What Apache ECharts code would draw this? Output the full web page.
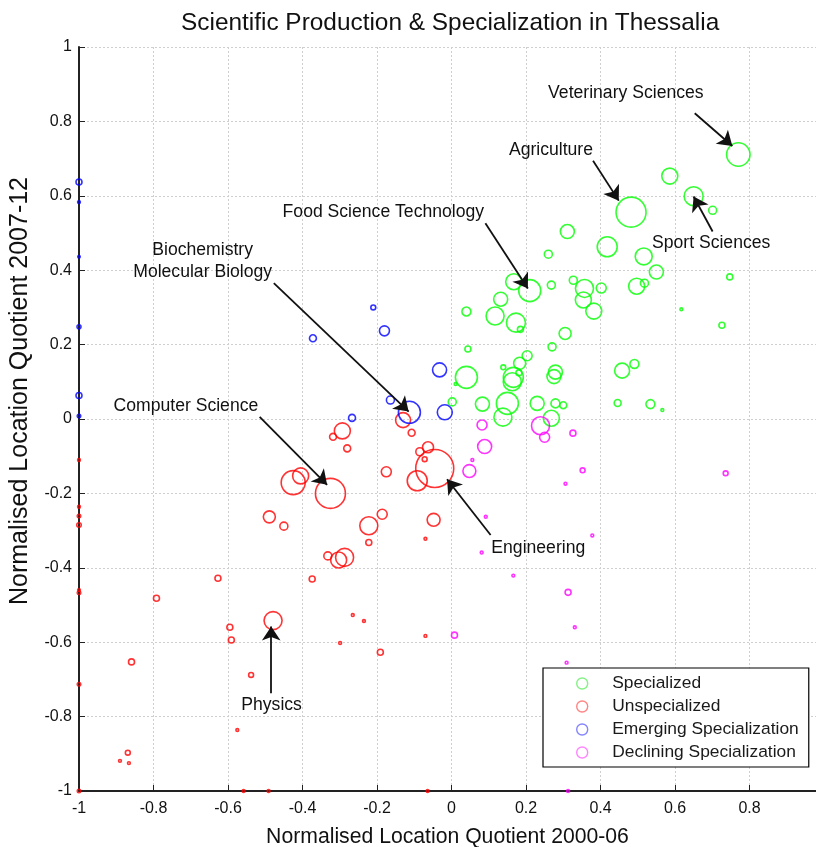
<!DOCTYPE html>
<html>
<head>
<meta charset="utf-8">
<script src="https://cdn.jsdelivr.net/npm/echarts@6/dist/echarts.min.js"></script>
<style>html,body{margin:0;padding:0;background:#fff;}#chart{width:816px;height:847px;}</style>
</head>
<body>
<div id="chart"></div>
<script>
// ---- data: [NLQ 2000-06, NLQ 2007-12, publication volume] ----
const categories = ['Specialized', 'Unspecialized', 'Emerging Specialization', 'Declining Specialization'];

const specialized = [
  [0.770,0.711,137],[0.586,0.653,64],[0.482,0.556,225],[0.650,0.599,90],[0.701,0.561,16],
  [0.311,0.504,49],[0.418,0.463,100],[0.516,0.437,72],[0.550,0.395,49],[0.260,0.443,16],
  [0.327,0.373,16],[0.357,0.351,81],[0.402,0.352,25],[0.497,0.357,64],[0.518,0.365,16],
  [0.354,0.320,64],[0.382,0.290,64],[0.747,0.382,9],[0.617,0.295,2],[0.726,0.252,9],
  [0.305,0.230,36],[0.458,0.130,56],[0.491,0.148,20],[0.300,0.037,12],[0.446,0.043,12],
  [0.534,0.040,20],[0.566,0.024,2],[0.210,0.345,121],[0.167,0.369,64],[0.268,0.360,16],
  [0.132,0.322,49],[0.040,0.289,20],[0.117,0.277,81],[0.173,0.259,90],[0.185,0.241,9],
  [0.270,0.194,16],[0.044,0.188,9],[0.203,0.170,25],[0.183,0.150,36],[0.139,0.139,6],
  [0.181,0.124,9],[0.166,0.112,100],[0.163,0.100,81],[0.279,0.126,49],[0.275,0.114,49],
  [0.040,0.112,121],[0.011,0.094,2],[0.002,0.046,16],[0.083,0.040,49],[0.150,0.042,121],
  [0.138,0.005,81],[0.230,0.042,49],[0.279,0.042,20],[0.268,0.002,64]
];

const unspecialized = [
  [-0.130,-0.003,56],[-0.107,-0.037,12],[-0.293,-0.032,64],[-0.318,-0.048,12],[-0.280,-0.079,12],
  [-0.063,-0.076,30],[-0.085,-0.088,16],[-0.072,-0.108,6],[-0.045,-0.133,361],[-0.092,-0.166,100],
  [-0.175,-0.142,25],[-0.325,-0.200,225],[-0.186,-0.256,25],[-0.222,-0.287,81],[-0.048,-0.271,42],
  [-0.070,-0.322,2],[-0.425,-0.171,144],[-0.405,-0.153,64],[-0.489,-0.263,36],[-0.450,-0.288,16],
  [-0.222,-0.332,9],[-0.332,-0.368,16],[-0.303,-0.379,64],[-0.287,-0.372,81],[-0.374,-0.430,9],
  [-0.627,-0.428,9],[-0.792,-0.482,9],[-0.479,-0.542,81],[-0.595,-0.560,9],[-0.591,-0.594,9],
  [-0.299,-0.602,2],[-0.859,-0.653,9],[-0.538,-0.688,6],[-0.575,-0.836,2],[-0.869,-0.897,6],
  [-0.890,-0.919,2],[-0.866,-0.925,2],[-0.265,-0.527,2],[-0.235,-0.543,2],[-0.070,-0.583,2],
  [-0.191,-0.627,9],[-1,-0.110,2],[-1,-0.236,2],[-1,-0.261,3],[-1,-0.285,5],
  [-1,-0.460,2],[-1,-0.467,3],[-1,-0.713,3],[-1,-1.0,3],[-0.558,-1,2],
  [-0.491,-1,2],[-0.064,-1,2]
];

const emerging = [
  [-0.210,0.300,6],[-0.180,0.237,25],[-0.032,0.132,49],[-0.164,0.051,16],[-0.113,0.018,121],
  [-0.018,0.018,56],[-0.267,0.003,12],[-0.372,0.217,12],[-1,0.637,9],[-1,0.583,2],
  [-1,0.436,1],[-1,0.248,4],[-1,0.063,9],[-1,0.008,3]
];

const declining = [
  [0.239,-0.018,81],[0.250,-0.049,25],[0.082,-0.016,25],[0.089,-0.074,49],[0.326,-0.038,9],
  [0.048,-0.140,42],[0.056,-0.110,2],[0.352,-0.138,6],[0.306,-0.174,2],[0.092,-0.263,2],
  [0.378,-0.313,2],[0.736,-0.146,6],[0.081,-0.359,2],[0.166,-0.421,2],[0.313,-0.466,9],
  [0.331,-0.560,2],[0.008,-0.581,9],[0.309,-0.655,2],[0.313,-1.0,2]
];

const annotationNames = ['Veterinary Sciences','Agriculture','Sport Sciences','Food Science Technology',
  'Biochemistry\nMolecular Biology','Computer Science','Engineering','Physics'];
const annotationTextAt = [[0.468,0.876],[0.267,0.723],[0.697,0.472],[-0.183,0.555],
  [-0.668,0.425],[-0.713,0.035],[0.233,-0.347],[-0.483,-0.769]];
const arrowTails = [[0.653,0.822],[0.380,0.694],[0.701,0.504],[0.091,0.526],
  [-0.477,0.365],[-0.515,0.006],[0.105,-0.312],[-0.484,-0.737]];
const arrowTips = [[0.754,0.734],[0.449,0.587],[0.650,0.598],[0.205,0.351],
  [-0.115,0.020],[-0.334,-0.177],[-0.012,-0.162],[-0.484,-0.558]];

const xTicks = { min: -1, max: 1, interval: 0.2 };
const yTicks = { min: -1, max: 1, interval: 0.2 };

// ---- chart ----
const colors = ['#00ff00', '#ff0000', '#0000ff', '#ff00ff'];
const legendColors = ['#66ee66', '#ff6666', '#6666ff', '#ff66ff'];
const FONT = 'Liberation Sans, Arial, Helvetica, sans-serif';
const seriesData = [specialized, unspecialized, emerging, declining];

const chart = echarts.init(document.getElementById('chart'), null, { renderer: 'canvas' });

const series = categories.map((name, i) => ({
  name: name,
  type: 'scatter',
  data: seriesData[i],
  symbol: 'circle',
  symbolSize: v => Math.max(2.5, 2 * Math.sqrt(v[2])),
  itemStyle: { color: 'rgba(0,0,0,0)', borderColor: colors[i], borderWidth: 1.6 },
  emphasis: { disabled: true },
  clip: false,
  z: 3
}));

series.push({
  name: 'annotations',
  type: 'scatter',
  silent: true,
  symbol: 'circle',
  symbolSize: 0,
  itemStyle: { color: '#111' },
  data: annotationNames.map((n, i) => ({ name: n, value: annotationTextAt[i] })),
  label: {
    show: true, position: 'inside', formatter: p => p.name,
    color: '#111', fontFamily: FONT, fontSize: 17.6, lineHeight: 22, align: 'center', verticalAlign: 'middle',
    textBorderWidth: 0, opacity: 1
  },
  markLine: {
    silent: true,
    animation: false,
    symbol: ['none', 'arrow'],
    symbolSize: 14,
    label: { show: false },
    lineStyle: { color: '#111', width: 1.8, type: 'solid' },
    emphasis: { disabled: true },
    data: arrowTails.map((t, i) => [{ coord: t }, { coord: arrowTips[i] }])
  },
  z: 4
});

const option = {
  animation: false,
  backgroundColor: '#fff',
  title: {
    text: 'Scientific Production & Specialization in Thessalia',
    left: 176, top: 6,
    textStyle: { fontFamily: FONT, fontSize: 24.4, fontWeight: 'normal', color: '#111' }
  },
  grid: { left: 79, top: 47, width: 745, height: 744, outerBoundsMode: 'none', containLabel: false },
  legend: {
    data: categories.map((c, i) => ({
      name: c, icon: 'circle',
      itemStyle: { color: 'rgba(0,0,0,0)', borderColor: legendColors[i], borderWidth: 1.4 }
    })),
    orient: 'vertical',
    left: 543, top: 668,
    padding: [7, 10, 6, 33],
    itemWidth: 12, itemHeight: 11, itemGap: 6,
    backgroundColor: '#fff',
    borderColor: '#000', borderWidth: 1.2, borderRadius: 0,
    selectedMode: false,
    textStyle: { fontFamily: FONT, fontSize: 17.4, color: '#1a1a1a', lineHeight: 17, padding: [0, 0, 0, 19] }
  },
  xAxis: {
    type: 'value', min: xTicks.min, max: xTicks.max, interval: xTicks.interval,
    name: 'Normalised Location Quotient 2000-06', nameLocation: 'middle', nameGap: 36,
    nameTextStyle: { fontFamily: FONT, fontSize: 21.2, color: '#111', padding: [0, 8, 0, 0] },
    axisLine: { show: true, onZero: false, lineStyle: { color: '#222', width: 2 } },
    axisTick: { show: true, inside: true, length: 6, lineStyle: { color: '#222', width: 1 } },
    axisLabel: { fontFamily: FONT, fontSize: 16, color: '#111', margin: 10 },
    splitLine: { show: true, lineStyle: { color: '#cfcfcf', type: [2, 2], width: 1 } }
  },
  yAxis: {
    type: 'value', min: yTicks.min, max: yTicks.max, interval: yTicks.interval,
    name: 'Normalised Location Quotient 2007-12', nameLocation: 'middle', nameGap: 46, nameRotate: 90,
    nameTextStyle: { fontFamily: FONT, fontSize: 25, color: '#111', padding: [0, 0, 0, 56] },
    axisLine: { show: true, onZero: false, lineStyle: { color: '#222', width: 2 } },
    axisTick: { show: true, inside: true, length: 6, lineStyle: { color: '#222', width: 1 } },
    axisLabel: { fontFamily: FONT, fontSize: 16, color: '#111', margin: 7 },
    splitLine: { show: true, lineStyle: { color: '#cfcfcf', type: [2, 2], width: 1 } }
  },
  series: series
};

chart.setOption(option);
</script>
</body>
</html>
